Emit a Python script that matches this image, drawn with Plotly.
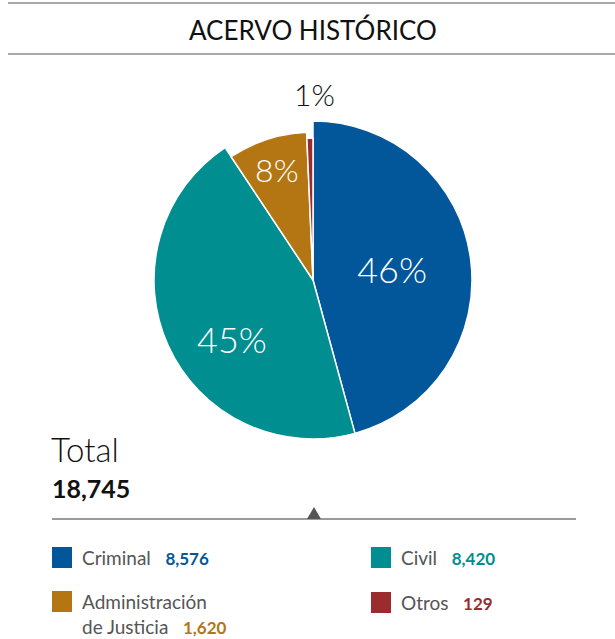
import plotly.graph_objects as go

# ---- data ----
categories = ["Criminal", "Civil", "Administración de Justicia", "Otros"]
legend_labels = ["Criminal", "Civil", "Administración<br>de Justicia", "Otros"]
values = [8576, 8420, 1620, 129]
pct_labels = ["46%", "45%", "8%", "1%"]
colors = ["#02569a", "#008e90", "#b47612", "#9a2b2f"]
title_text = "ACERVO HISTÓRICO"
total_label = "Total"

W, H = 615, 639
TRANSP = "rgba(0,0,0,0)"

def px(x):
    return x / W

def py(y):
    return 1 - y / H

CX, CY = 313, 280

def domain(r):
    return dict(x=[px(CX - r), px(CX + r)], y=[py(CY + r), py(CY - r)])

LIGHT = "Lato"

fig = go.Figure()

# pie layer 1: Criminal and Civil (full radius)
fig.add_trace(go.Pie(
    labels=categories, values=values, sort=False, direction="clockwise", rotation=0,
    domain=domain(159),
    marker=dict(colors=[colors[0], colors[1], TRANSP, TRANSP],
                line=dict(color=["white", "white", TRANSP, TRANSP], width=1.5)),
    text=[pct_labels[0], "", "", ""],
    textinfo="text",
    textposition=["inside", "none", "none", "none"],
    insidetextorientation="horizontal",
    insidetextfont=dict(family=LIGHT, size=36, color="white", weight=300),
    hoverinfo="label+value", showlegend=False,
))

# pie layer 2: Administración de Justicia (smaller radius)
fig.add_trace(go.Pie(
    labels=categories, values=values, sort=False, direction="clockwise", rotation=0,
    domain=domain(148),
    marker=dict(colors=[TRANSP, TRANSP, colors[2], TRANSP],
                line=dict(color=[TRANSP, TRANSP, "white", TRANSP], width=1.5)),
    text=["", "", pct_labels[2], ""],
    textinfo="text",
    textposition=["none", "none", "inside", "none"],
    insidetextorientation="horizontal",
    insidetextfont=dict(family=LIGHT, size=32, color="white", weight=300),
    hoverinfo="label+value", showlegend=False,
))

# pie layer 3: Otros (smallest radius)
fig.add_trace(go.Pie(
    labels=categories, values=values, sort=False, direction="clockwise", rotation=0,
    domain=domain(142),
    marker=dict(colors=[TRANSP, TRANSP, TRANSP, colors[3]],
                line=dict(color=[TRANSP, TRANSP, TRANSP, "white"], width=1.5)),
    textinfo="none",
    hoverinfo="label+value", showlegend=False,
))

shapes = []
annotations = []

# percentage labels placed by hand (Civil inside, Otros above)
annotations.append(dict(text=pct_labels[1], xref="paper", yref="paper",
                        x=px(232), y=py(339), xanchor="center", yanchor="middle",
                        showarrow=False,
                        font=dict(family=LIGHT, size=36, color="white", weight=300)))
annotations.append(dict(text=pct_labels[3], xref="paper", yref="paper",
                        x=px(314), y=py(94), xanchor="center", yanchor="middle",
                        showarrow=False,
                        font=dict(family=LIGHT, size=30, color="#111111", weight=300)))

# title and rules
for yy in (3, 54):
    shapes.append(dict(type="line", xref="paper", yref="paper",
                       x0=px(8), x1=px(615), y0=py(yy), y1=py(yy),
                       line=dict(color="#a9a9a9", width=2)))
annotations.append(dict(text=title_text, xref="paper", yref="paper",
                        x=px(313), y=py(30), xanchor="center", yanchor="middle",
                        showarrow=False,
                        font=dict(family="Lato", size=26, color="#111111")))

# total
annotations.append(dict(text=total_label, xref="paper", yref="paper",
                        x=px(49), y=py(449), xanchor="left", yanchor="middle",
                        showarrow=False,
                        font=dict(family="Lato", size=33, color="#111111", weight=300)))
annotations.append(dict(text=f"<b>{sum(values):,}</b>", xref="paper", yref="paper",
                        x=px(50), y=py(488), xanchor="left", yanchor="middle",
                        showarrow=False,
                        font=dict(family="Lato", size=25, color="#111111")))

# separator with triangle
shapes.append(dict(type="line", xref="paper", yref="paper",
                   x0=px(52), x1=px(576), y0=py(519), y1=py(519),
                   line=dict(color="#7a7a7a", width=1.5)))
shapes.append(dict(type="path", xref="paper", yref="paper",
                   path=f"M {px(307)} {py(519)} L {px(321)} {py(519)} L {px(314)} {py(507)} Z",
                   fillcolor="#555555", line=dict(width=0)))

# legend (custom, two columns)
leg_pos = [(52, 557), (371, 557), (52, 601), (371, 602)]
for i, (lab, v, c) in enumerate(zip(legend_labels, values, colors)):
    x0, yc = leg_pos[i]
    shapes.append(dict(type="rect", xref="paper", yref="paper",
                       x0=px(x0), x1=px(x0 + 20), y0=py(yc + 11), y1=py(yc - 10),
                       fillcolor=c, line=dict(width=0)))
    txt = f"{lab}   <b><span style='color:{c};font-size:17px'>{v:,}</span></b>"
    annotations.append(dict(text=txt, xref="paper", yref="paper",
                            x=px(x0 + 28), y=py(yc - 13), xanchor="left", yanchor="top",
                            align="left", showarrow=False,
                            font=dict(family="Lato", size=19, color="#555555")))

fig.update_layout(
    width=W, height=H,
    margin=dict(l=0, r=0, t=0, b=0),
    paper_bgcolor="white", plot_bgcolor="white",
    shapes=shapes, annotations=annotations,
    showlegend=False,
)

fig.write_html("out.html", config={"displayModeBar": False},
               post_script="document.body.style.margin='0px';")
